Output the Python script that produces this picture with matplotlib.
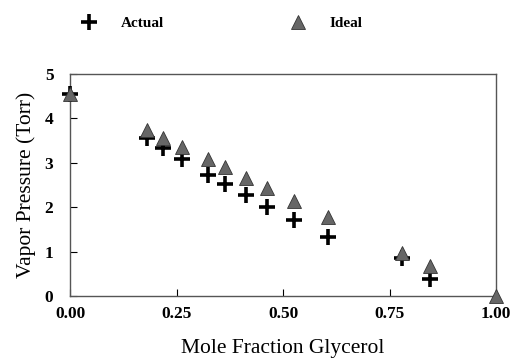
import matplotlib
matplotlib.use("Agg")
import matplotlib.pyplot as plt
from matplotlib.lines import Line2D

# ─────────────── 数据 ───────────────
x_actual = [0.00, 0.181, 0.218, 0.263, 0.324, 0.364, 0.413, 0.462, 0.526, 0.606, 0.779, 0.845]
y_actual = [4.55, 3.55, 3.33, 3.08, 2.73, 2.52, 2.28, 2.01, 1.71, 1.33, 0.85, 0.38]

x_ideal = [0.00, 0.181, 0.218, 0.263, 0.324, 0.364, 0.413, 0.462, 0.526, 0.606, 0.779, 0.845, 1.00]
y_ideal = [4.55, 3.74, 3.55, 3.35, 3.08, 2.90, 2.66, 2.44, 2.15, 1.78, 0.97, 0.67, 0.00]

x_ticks = [0.00, 0.25, 0.50, 0.75, 1.00]
x_tick_labels = ["0.00", "0.25", "0.50", "0.75", "1.00"]
y_ticks = [0, 1, 2, 3, 4, 5]

plt.rcParams["font.family"] = ["Liberation Serif", "DejaVu Serif"]

fig = plt.figure(figsize=(5.12, 3.59), dpi=100)
ax = fig.add_axes([0.137, 0.175, 0.832, 0.619])

tri_color = "#666666"
ax.plot(x_actual, y_actual, linestyle="none", marker="+", markersize=11,
        markeredgewidth=2.6, color="black", clip_on=False, zorder=3)
ax.plot(x_ideal, y_ideal, linestyle="none", marker="^", markersize=9.5,
        markerfacecolor=tri_color, markeredgecolor="#333333", markeredgewidth=0.6,
        clip_on=False, zorder=4)

ax.set_xlim(0, 1)
ax.set_ylim(0, 5)
ax.set_xticks(x_ticks)
ax.set_xticklabels(x_tick_labels)
ax.set_yticks(y_ticks)
ax.tick_params(direction="in", length=5, width=0.8, labelsize=12.5)
ax.tick_params(axis="x", pad=7)
ax.tick_params(axis="y", pad=12)
for lab in ax.get_xticklabels() + ax.get_yticklabels():
    lab.set_fontweight("bold")

for s in ax.spines.values():
    s.set_linewidth(1.0)
    s.set_color("#555555")

ax.set_xlabel("Mole Fraction Glycerol", fontsize=15.5, labelpad=12)
ax.set_ylabel("Vapor Pressure (Torr)", fontsize=15.5, labelpad=6)

handles = [
    Line2D([], [], linestyle="none", marker="+", markersize=11, markeredgewidth=2.6, color="black"),
    Line2D([], [], linestyle="none", marker="^", markersize=9.5, markerfacecolor=tri_color,
           markeredgecolor="#333333", markeredgewidth=0.6),
]
fig.legend(handles, ["Actual", "Ideal"], loc="center", bbox_to_anchor=(0.426, 0.935),
           ncol=2, frameon=False, handletextpad=1.05, columnspacing=7.8,
           prop={"weight": "bold", "size": 11})

fig.savefig("out.png", dpi=100)
